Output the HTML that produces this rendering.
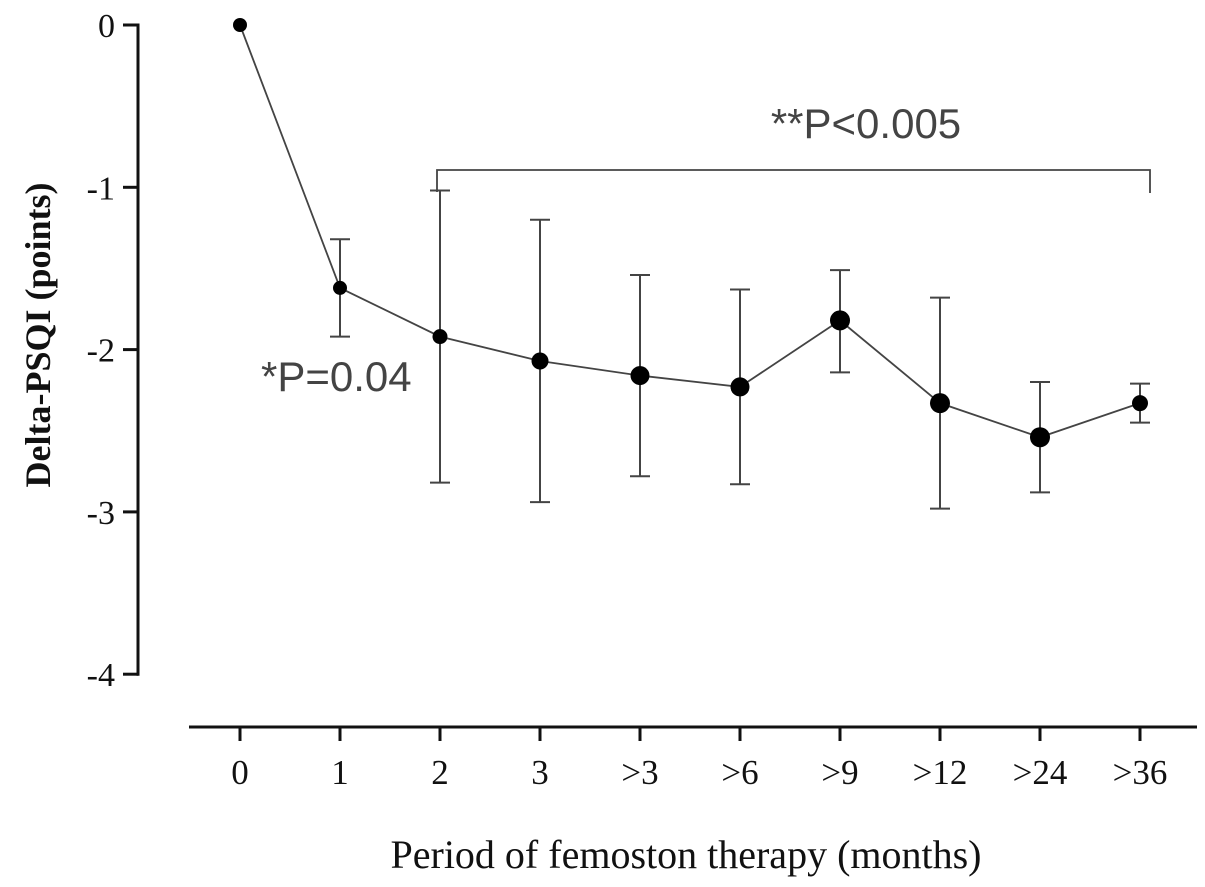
<!DOCTYPE html>
<html><head><meta charset="utf-8"><style>
html,body{margin:0;padding:0;background:#fff;}
svg{display:block;}
</style></head><body>
<svg id="chart" width="1205" height="887" xmlns="http://www.w3.org/2000/svg"></svg>
<script>
const categories = ["0","1","2","3",">3",">6",">9",">12",">24",">36"];
const means = [0,-1.62,-1.92,-2.07,-2.16,-2.23,-1.82,-2.33,-2.54,-2.33];
const errTop = [null,-1.32,-1.02,-1.2,-1.54,-1.63,-1.51,-1.68,-2.2,-2.21];
const errBottom = [null,-1.92,-2.82,-2.94,-2.78,-2.83,-2.14,-2.98,-2.88,-2.45];
const yTicks = [0,-1,-2,-3,-4];
const markerR = [7,7,7.5,8.5,9.5,9.5,10,10,10,8];

const svg = document.getElementById('chart');
const NS = 'http://www.w3.org/2000/svg';
const x = i => 240 + i*100;
const y = v => 25 - v*162.3;
function mk(tag, attrs, parent){
  const e = document.createElementNS(NS, tag);
  for (const k in attrs) e.setAttribute(k, attrs[k]);
  (parent||svg).appendChild(e);
  return e;
}
let e = mk('line',{x1:138,y1:y(0)-1.5,x2:138,y2:y(-4)+1.5,stroke:'#111','stroke-width':3});


yTicks.forEach(t=>{
  const tk = mk('line',{x1:123,y1:y(t),x2:138,y2:y(t),stroke:'#111','stroke-width':3});
  
  
  const lb = mk('text',{x:115,y:y(t)+12,'text-anchor':'end','font-family':'Liberation Serif, serif','font-size':34,fill:'#111'});
  lb.textContent = t;
  
  
});
e = mk('line',{x1:189,y1:727,x2:1197,y2:727,stroke:'#111','stroke-width':3});


categories.forEach((c,i)=>{
  const tk = mk('line',{x1:x(i),y1:727,x2:x(i),y2:741,stroke:'#111','stroke-width':3});
  
  
  const lb = mk('text',{x:x(i),y:784,'text-anchor':'middle','font-family':'Liberation Serif, serif','font-size':35,fill:'#111'});
  lb.textContent = c;
  
  
});
e = mk('text',{x:686,y:868,'text-anchor':'middle','font-family':'Liberation Serif, serif','font-size':40,fill:'#111'});
e.textContent = 'Period of femoston therapy (months)';


e = mk('text',{x:0,y:0,transform:'translate(50,335) rotate(-90)','text-anchor':'middle','font-family':'Liberation Serif, serif','font-size':36,'font-weight':'bold',fill:'#111'});
e.textContent = 'Delta-PSQI (points)';


categories.forEach((c,i)=>{
  if (errTop[i]===null) return;
  const g = mk('g',{stroke:'#444','stroke-width':2});
  
  
  mk('line',{x1:x(i),y1:y(errTop[i]),x2:x(i),y2:y(errBottom[i])},g);
  mk('line',{x1:x(i)-10,y1:y(errTop[i]),x2:x(i)+10,y2:y(errTop[i])},g);
  mk('line',{x1:x(i)-10,y1:y(errBottom[i]),x2:x(i)+10,y2:y(errBottom[i])},g);
});
e = mk('polyline',{points:means.map((v,i)=>x(i)+','+y(v)).join(' '),fill:'none',stroke:'#444','stroke-width':1.8});


means.forEach((v,i)=>{
  const p = mk('circle',{cx:x(i),cy:y(v),r:markerR[i],fill:'#000'});
  
  
});
e = mk('polyline',{points:'437,192 437,170 1150,170 1150,193',fill:'none',stroke:'#444','stroke-width':1.8});


e = mk('text',{x:866,y:138,'text-anchor':'middle','font-family':'Liberation Sans, sans-serif','font-size':42,fill:'#444'});
e.textContent = '**P<0.005';


e = mk('text',{x:261,y:391,'font-family':'Liberation Sans, sans-serif','font-size':42,fill:'#444'});
e.textContent = '*P=0.04';


</script>
</body></html>
